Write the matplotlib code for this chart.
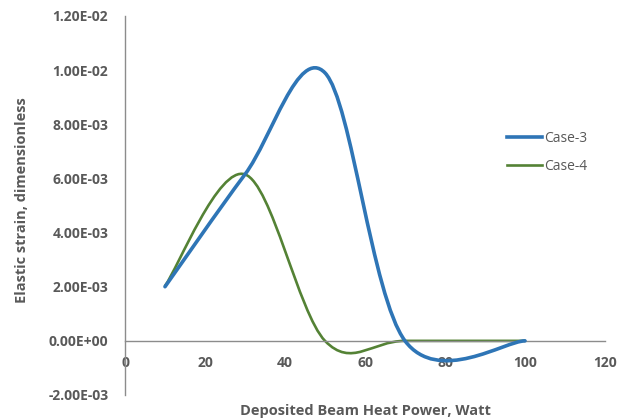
import numpy as np
import matplotlib
matplotlib.use('Agg')
import matplotlib.pyplot as plt
from matplotlib.path import Path
from matplotlib.patches import PathPatch
from matplotlib.lines import Line2D

# data
power = [10, 30, 50, 70, 100]
case3 = [2.0e-3, 6.15e-3, 9.9e-3, 0.0, 0.0]
case4 = [2.03e-3, 6.15e-3, 0.0, 0.0, 0.0]

yticks = [-2e-3, 0, 2e-3, 4e-3, 6e-3, 8e-3, 1e-2, 1.2e-2]
ytick_labels = ['-2.00E-03', '0.00E+00', '2.00E-03', '4.00E-03', '6.00E-03',
                '8.00E-03', '1.00E-02', '1.20E-02']
xticks = [0, 20, 40, 60, 80, 100, 120]

BlueCol = '#2E75B6'
GreenCol = '#548235'
TxtCol = '#595959'
AxCol = '#8C8C8C'


def smooth_path(x, y):
    # excel style smoothed line: cubic bezier through every point
    x = np.asarray(x, float)
    y = np.asarray(y, float)
    n = len(x)
    verts = [(x[0], y[0])]
    codes = [Path.MOVETO]
    for i in range(n - 1):
        i0 = max(i - 1, 0)
        i3 = min(i + 2, n - 1)
        c1 = (x[i] + (x[i + 1] - x[i0]) / 6, y[i] + (y[i + 1] - y[i0]) / 6)
        c2 = (x[i + 1] - (x[i3] - x[i]) / 6, y[i + 1] - (y[i3] - y[i]) / 6)
        verts += [c1, c2, (x[i + 1], y[i + 1])]
        codes += [Path.CURVE4] * 3
    return Path(verts, codes)


plt.rcParams['font.family'] = ['Open Sans', 'DejaVu Sans']
fig = plt.figure(figsize=(6.3, 4.18), dpi=100)
ax = fig.add_axes([125 / 630, 23 / 418, 480 / 630, 379 / 418])

ax.add_patch(PathPatch(smooth_path(power, case3), fill=False, edgecolor=BlueCol,
                       linewidth=2.6, capstyle='round', zorder=3))
ax.add_patch(PathPatch(smooth_path(power, case4), fill=False, edgecolor=GreenCol,
                       linewidth=1.9, capstyle='round', zorder=2))

ax.set_xlim(0, 120)
ax.set_ylim(-2e-3, 1.2e-2)
ax.set_xticks(xticks)
ax.set_yticks(yticks)
ax.set_yticklabels(ytick_labels)

ax.spines['top'].set_visible(False)
ax.spines['right'].set_visible(False)
ax.spines['bottom'].set_position(('data', 0))
ax.spines['bottom'].set_color(AxCol)
ax.spines['left'].set_color(AxCol)
ax.spines['bottom'].set_linewidth(1.0)
ax.spines['left'].set_linewidth(1.0)
ax.tick_params(axis='x', length=0, pad=11, labelsize=10, labelcolor=TxtCol)
ax.tick_params(axis='y', length=0, pad=12, labelsize=10, labelcolor=TxtCol)
for lab in ax.get_xticklabels() + ax.get_yticklabels():
    lab.set_fontweight('bold')

fig.text(365 / 630, 1 - 411 / 418, 'Deposited Beam Heat Power, Watt', ha='center', va='center',
         fontsize=10.5, fontweight='bold', color=TxtCol)
fig.text(22 / 630, 1 - 200 / 418, 'Elastic strain, dimensionless', ha='center', va='center',
         rotation=90, fontsize=10.5, fontweight='bold', color=TxtCol)

handles = [Line2D([], [], color=BlueCol, linewidth=2.6),
           Line2D([], [], color=GreenCol, linewidth=1.9)]
leg = ax.legend(handles, ['Case-3', 'Case-4'], loc='center left', bbox_to_anchor=(0.77, 0.64),
                frameon=False, fontsize=10, handlelength=2.5, handletextpad=0.2, labelspacing=0.9)
for t in leg.get_texts():
    t.set_color(TxtCol)

fig.savefig('out.png', dpi=100)
